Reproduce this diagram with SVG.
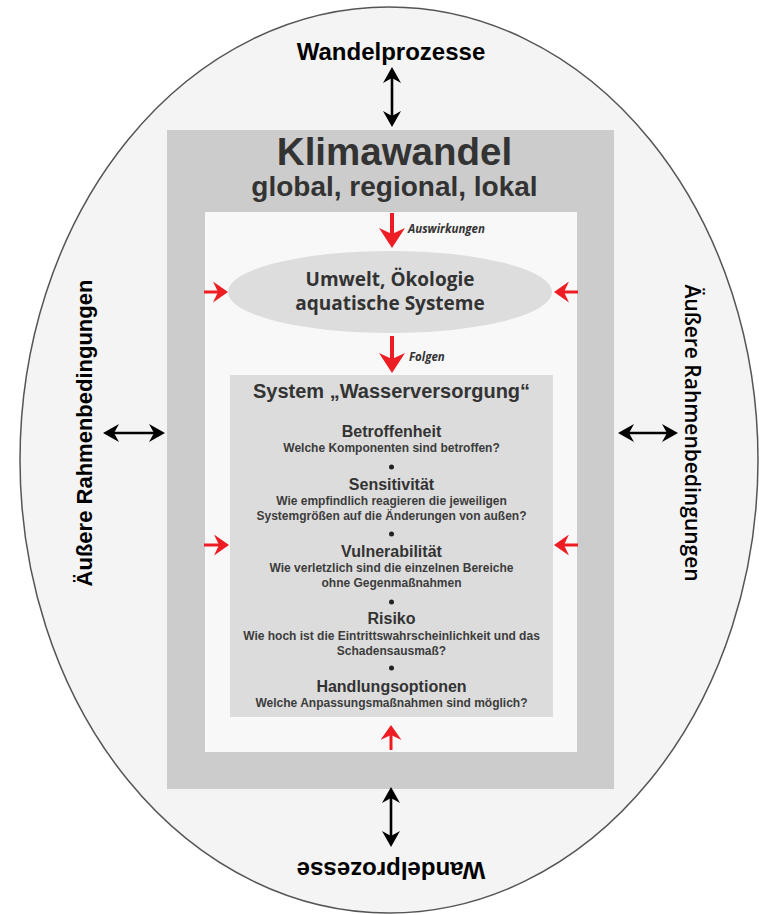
<svg xmlns="http://www.w3.org/2000/svg" width="759" height="915" viewBox="0 0 759 915">
<style>
.ar{font-family:"Liberation Sans",Arial,sans-serif;font-weight:bold;text-anchor:middle}
.os{font-family:"Open Sans","Liberation Sans",sans-serif;font-weight:bold;text-anchor:middle}
.dk{fill:#333333}
.q{font-size:12px;fill:#3c3c3c}
.h{font-size:16px;fill:#333333}
.blk{stroke:#000;stroke-width:2.6;fill:none}
.red{stroke:#ee1d23;stroke-width:4;fill:none}
.reds{stroke:#ee1d23;stroke-width:3;fill:none}
.lbl{font-family:"Open Sans","Liberation Sans",sans-serif;font-weight:bold;font-style:italic;font-size:11.5px;fill:#333}
</style>
<defs>
<marker id="mb" markerUnits="userSpaceOnUse" viewBox="0 0 16 18" refX="8" refY="9" markerWidth="16" markerHeight="18" orient="auto-start-reverse">
<path d="M0,0 L16,9 L0,18 L5,9 Z" fill="#000"/>
</marker>
<marker id="mr" markerUnits="userSpaceOnUse" viewBox="0 0 20 26" refX="10" refY="13" markerWidth="20" markerHeight="26" orient="auto">
<path d="M0,0 L20,13 L0,26 L6,13 Z" fill="#ee1d23"/>
</marker>
<marker id="mrs" markerUnits="userSpaceOnUse" viewBox="0 0 15 21" refX="8" refY="10.5" markerWidth="15" markerHeight="21" orient="auto">
<path d="M0,0 L15,10.5 L0,21 L5,10.5 Z" fill="#ee1d23"/>
</marker>
</defs>
<rect width="759" height="915" fill="#ffffff"/>
<g id="umfeld">
<ellipse cx="389" cy="460" rx="369" ry="453" fill="#f4f4f4" stroke="#555" stroke-width="1.5"/>
<text class="ar" x="391" y="60" font-size="24" fill="#000">Wandelprozesse</text>
<text class="ar" font-size="24" fill="#000" transform="translate(391,862) rotate(180)">Wandelprozesse</text>
<text class="ar" font-size="22" fill="#000" transform="translate(92,433) rotate(-90)">Äußere Rahmenbedingungen</text>
<text font-family="'Open Sans','Liberation Sans',sans-serif" font-weight="600" text-anchor="middle" font-size="21" fill="#000" transform="translate(685,433) rotate(90)">Äußere Rahmenbedingungen</text>
</g>
<g id="klimawandel">
<rect x="167" y="130" width="447" height="659" fill="#cccccc"/>
<text class="ar dk" x="394.5" y="165" font-size="38.5">Klimawandel</text>
<text class="ar dk" x="394.5" y="196" font-size="28">global, regional, lokal</text>
<rect x="205" y="212" width="372" height="540" fill="#f8f8f8"/>
</g>
<g id="umwelt">
<ellipse cx="390" cy="292" rx="162" ry="41" fill="#dddddd"/>
<text class="os dk" x="390" y="286" font-size="19">Umwelt, Ökologie</text>
<text class="os dk" x="390" y="310" font-size="19">aquatische Systeme</text>
</g>
<g id="wasserversorgung">
<rect x="230" y="375" width="323" height="342" fill="#dcdcdc"/>
<text class="ar dk" x="391.5" y="398" font-size="20">System „Wasserversorgung“</text>
<text class="ar h" x="391.5" y="437">Betroffenheit</text>
<text class="ar q" x="391.5" y="452">Welche Komponenten sind betroffen?</text>
<circle cx="391.5" cy="467" r="2.5" fill="#222"/>
<text class="ar h" x="391.5" y="490">Sensitivität</text>
<text class="ar q" x="391.5" y="505">Wie empfindlich reagieren die jeweiligen</text>
<text class="ar q" x="391.5" y="520">Systemgrößen auf die Änderungen von außen?</text>
<circle cx="391.5" cy="534" r="2.5" fill="#222"/>
<text class="ar h" x="391.5" y="557">Vulnerabilität</text>
<text class="ar q" x="391.5" y="572">Wie verletzlich sind die einzelnen Bereiche</text>
<text class="ar q" x="391.5" y="587">ohne Gegenmaßnahmen</text>
<circle cx="391.5" cy="602" r="2.5" fill="#222"/>
<text class="ar h" x="391.5" y="624">Risiko</text>
<text class="ar q" x="391.5" y="640">Wie hoch ist die Eintrittswahrscheinlichkeit und das</text>
<text class="ar q" x="391.5" y="655">Schadensausmaß?</text>
<circle cx="391.5" cy="668" r="2.5" fill="#222"/>
<text class="ar h" x="391.5" y="692">Handlungsoptionen</text>
<text class="ar q" x="391.5" y="707">Welche Anpassungsmaßnahmen sind möglich?</text>
</g>
<g id="connectors">
<line class="blk" x1="392" y1="75" x2="392" y2="119" marker-start="url(#mb)" marker-end="url(#mb)"/>
<line class="blk" x1="391" y1="795" x2="391" y2="839" marker-start="url(#mb)" marker-end="url(#mb)"/>
<line class="blk" x1="111" y1="433" x2="157" y2="433" marker-start="url(#mb)" marker-end="url(#mb)"/>
<line class="blk" x1="626" y1="433" x2="670" y2="433" marker-start="url(#mb)" marker-end="url(#mb)"/>
<line class="red" x1="392" y1="213" x2="392" y2="238" marker-end="url(#mr)"/>
<line class="red" x1="392" y1="336" x2="392" y2="363" marker-end="url(#mr)"/>
<line class="reds" x1="204" y1="292" x2="221" y2="292" marker-end="url(#mrs)"/>
<line class="reds" x1="578" y1="292" x2="561" y2="292" marker-end="url(#mrs)"/>
<line class="reds" x1="204" y1="545" x2="222" y2="545" marker-end="url(#mrs)"/>
<line class="reds" x1="578" y1="545" x2="561" y2="545" marker-end="url(#mrs)"/>
<line class="reds" x1="391" y1="750" x2="391" y2="732" marker-end="url(#mrs)"/>
<text class="lbl" x="408" y="233">Auswirkungen</text>
<text class="lbl" x="409" y="361">Folgen</text>
</g>
</svg>
